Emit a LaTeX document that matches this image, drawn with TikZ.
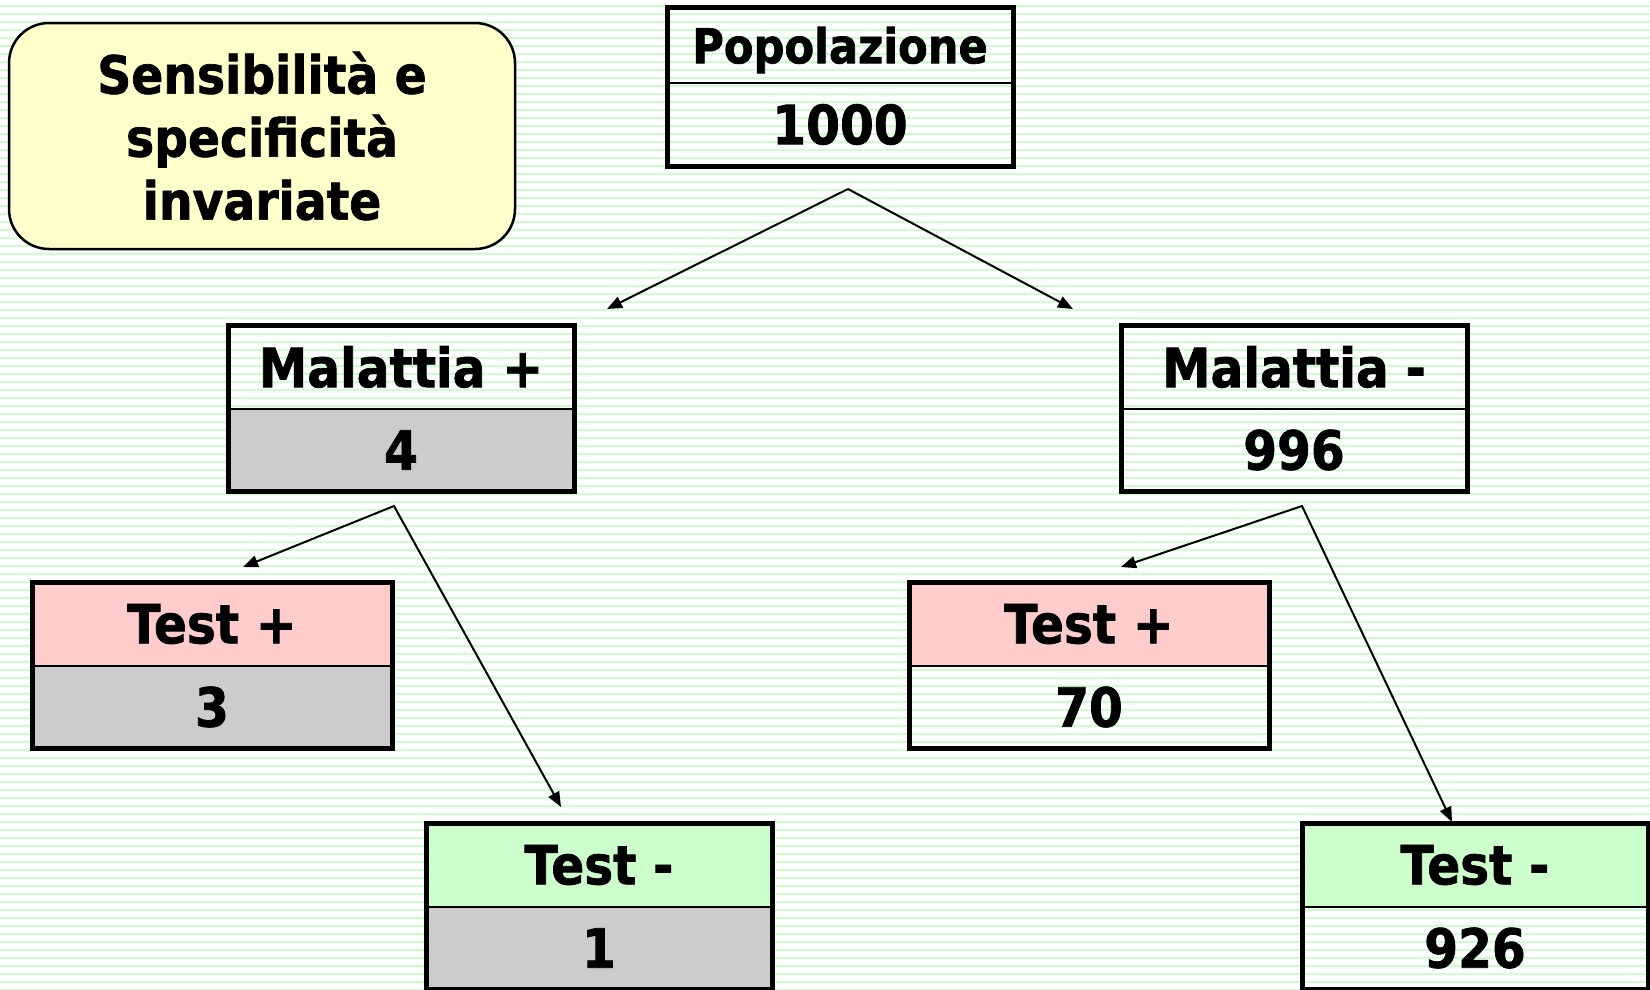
\documentclass[tikz,border=0pt]{standalone}
\usepackage{fontspec}
\newfontfamily\slidefont{DejaVu Sans Bold}[FakeStretch=0.9,FakeBold=1.4]
\usetikzlibrary{arrows.meta,positioning}
\definecolor{stripe}{HTML}{CCFFCC}
\definecolor{notefill}{HTML}{FFFFCC}
\definecolor{posfill}{HTML}{FFCCCC}
\definecolor{negfill}{HTML}{CCFFCC}
\definecolor{sickfill}{HTML}{CCCCCC}

\begin{document}
\begin{tikzpicture}[x=1pt,y=-1pt,>={Triangle[length=15pt,width=12pt]},
  cell/.style={draw,line width=2pt,outer sep=0pt,inner sep=0pt,
    minimum width=346pt,minimum height=83pt,
    font=\slidefont\fontsize{54}{60}\selectfont},
  testcell/.style={cell,minimum width=360pt},
  frame/.style={line width=5pt},
  arr/.style={<->,line width=2pt}]
  \clip (0,0) rectangle (1650,989);
  \fill[white] (0,0) rectangle (1650,989);
  \foreach \k in {0,...,123}
    \draw[stripe,line width=1.8pt] (0,5.7+8*\k) -- (1650,5.7+8*\k);

  \node[draw,line width=2.5pt,rounded corners=40pt,fill=notefill,
    minimum width=506pt,minimum height=226pt,align=center,
    font=\slidefont\fontsize{52.5}{63}\selectfont]
    (note) at (262,136) {Sensibilità e\\specificità\\invariate};

  \node[cell,minimum height=76pt,text depth=0pt,
    font=\slidefont\fontsize{48}{60}\selectfont]
    (pophead) at (840,45) {Popolazione};
  \node[cell,below=0pt of pophead] (popval) {1000};
  \draw[frame] (pophead.north west) rectangle (popval.south east);

  \node[cell] (mphead) at (401,367) {Malattia +};
  \node[cell,fill=sickfill,below=0pt of mphead] (mpval) {4};
  \draw[frame] (mphead.north west) rectangle (mpval.south east);

  \node[cell] (mmhead) at (1294,367) {Malattia -};
  \node[cell,below=0pt of mmhead] (mmval) {996};
  \draw[frame] (mmhead.north west) rectangle (mmval.south east);

  \node[testcell,fill=posfill] (tphead1) at (212,624) {Test +};
  \node[testcell,fill=sickfill,below=0pt of tphead1] (tpval1) {3};
  \draw[frame] (tphead1.north west) rectangle (tpval1.south east);

  \node[testcell,fill=posfill] (tphead2) at (1089,624) {Test +};
  \node[testcell,below=0pt of tphead2] (tpval2) {70};
  \draw[frame] (tphead2.north west) rectangle (tpval2.south east);

  \node[cell,fill=negfill] (tnhead1) at (599,865) {Test -};
  \node[cell,fill=sickfill,below=0pt of tnhead1] (tnval1) {1};
  \draw[frame] (tnhead1.north west) rectangle (tnval1.south east);

  \node[cell,fill=negfill] (tnhead2) at (1475,865) {Test -};
  \node[cell,below=0pt of tnhead2] (tnval2) {926};
  \draw[frame] (tnhead2.north west) rectangle (tnval2.south east);

  \coordinate (popfork) at (848,189);
  \coordinate (tomp) at (607,309);
  \coordinate (tomm) at (1073,309);
  \coordinate (mpfork) at (394,506);
  \coordinate (totp1) at (243,567);
  \coordinate (totn1) at (561,807);
  \coordinate (mmfork) at (1302,506);
  \coordinate (totp2) at (1121,567);
  \coordinate (totn2) at (1452,822);
  \draw[arr] (tomp) -- (popfork) -- (tomm);
  \draw[arr] (totp1) -- (mpfork) -- (totn1);
  \draw[arr] (totp2) -- (mmfork) -- (totn2);
\end{tikzpicture}
\end{document}
